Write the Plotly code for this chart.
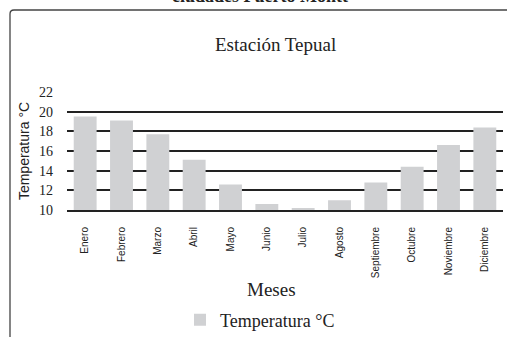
import plotly.graph_objects as go

meses = ["Enero", "Febrero", "Marzo", "Abril", "Mayo", "Junio", "Julio",
         "Agosto", "Septiembre", "Octubre", "Noviembre", "Diciembre"]
temperatura = [19.5, 19.1, 17.7, 15.1, 12.6, 10.6, 10.2, 11.0, 12.8, 14.4, 16.6, 18.4]
y_ticks = [10, 12, 14, 16, 18, 20, 22]

W, H = 507, 337
L, R, T, B = 67, 4, 92, 127
pw, ph = W - L - R, H - T - B

def px(x):
    return (x - L) / pw

def py(y):
    return (H - B - y) / ph

fig = go.Figure()
fig.add_trace(go.Bar(
    x=meses, y=temperatura, name="Temperatura °C",
    marker=dict(color="#d0d1d3", line=dict(width=0)),
))

serif = "Liberation Serif"
sans = "Liberation Sans"

fig.update_layout(
    width=W, height=H, autosize=False,
    margin=dict(l=L, r=R, t=T, b=B, pad=0, autoexpand=False),
    paper_bgcolor="white", plot_bgcolor="white",
    bargap=0.37,
    showlegend=True,
    legend=dict(orientation="h", xref="container", yref="container",
                x=180 / W, y=1 - 320 / H, xanchor="left", yanchor="middle",
                font=dict(family=serif, size=18, color="#222"),
                bgcolor="rgba(0,0,0,0)", itemwidth=30),
    xaxis=dict(
        type="category", tickangle=-90, showgrid=False, zeroline=False,
        showline=True, linecolor="#222", linewidth=2, automargin=False,
        ticks="", ticklabelstandoff=11,
        tickfont=dict(family=sans, size=10, color="#222"),
    ),
    yaxis=dict(
        range=[10, 22], tickvals=y_ticks, showgrid=True, gridcolor="#222", gridwidth=2,
        zeroline=False, showline=False, ticks="", ticklabelstandoff=13, automargin=False,
        tickfont=dict(family=serif, size=14, color="#222"),
        title=dict(text="Temperatura °C", font=dict(family=sans, size=14, color="#222"), standoff=6),
    ),
    annotations=[
        dict(text="Estación Tepual", x=px(275), y=py(44), xref="paper", yref="paper",
             showarrow=False, xanchor="center", yanchor="middle",
             font=dict(family=serif, size=19, color="#222")),
        dict(text="Meses", x=px(271), y=py(289), xref="paper", yref="paper",
             showarrow=False, xanchor="center", yanchor="middle",
             font=dict(family=serif, size=19, color="#222")),
        dict(text="<b>ciudades Puerto Montt</b>", x=px(260), y=py(8), xref="paper", yref="paper",
             showarrow=False, xanchor="center", yanchor="bottom",
             font=dict(family=serif, size=18, color="#222")),
    ],
    shapes=[
        dict(type="path", xref="paper", yref="paper",
             path=f"M {px(10)},{py(340)} L {px(10)},{py(14)} Q {px(10)},{py(10)} {px(14)},{py(10)} L {px(510)},{py(10)}",
             line=dict(color="#444", width=1.3)),
    ],
)

fig.write_html("out.html", config={"displayModeBar": False},
               post_script="document.body.style.margin='0';document.body.style.padding='0';")
